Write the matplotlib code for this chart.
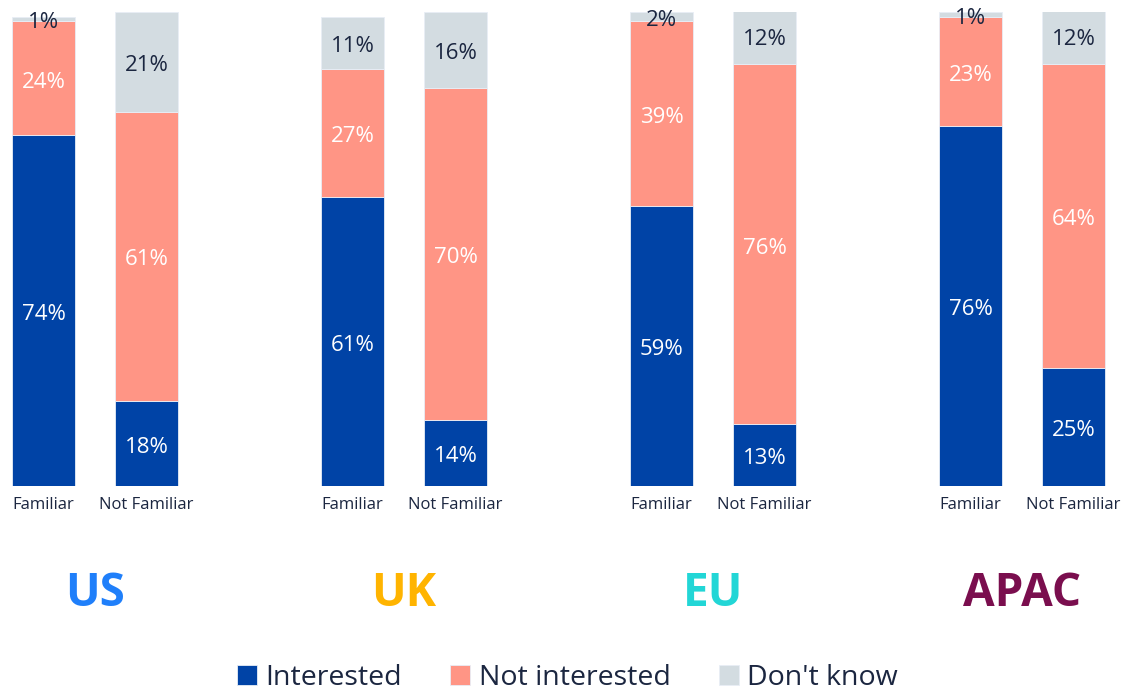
import numpy as np
import matplotlib.pyplot as plt

plt.rcParams['font.family'] = ['Open Sans', 'DejaVu Sans']

regions = ["US", "UK", "EU", "APAC"]
region_colors = ["#1F7FFA", "#FFB400", "#22D6D6", "#7A0E4E"]
groups = ["Familiar", "Not Familiar"]

# per region: [Familiar, Not Familiar]
interested = [[74, 18], [61, 14], [59, 13], [76, 25]]
not_interested = [[24, 61], [27, 70], [39, 76], [23, 64]]
dont_know = [[1, 21], [11, 16], [2, 12], [1, 12]]

series = ["Interested", "Not interested", "Don't know"]
colors = ["#0043A6", "#FF9585", "#D3DCE1"]
text_colors = ["white", "white", "#1B2640"]
dark = "#1B2640"

fig = plt.figure(figsize=(11.35, 6.9), dpi=100)
ax = fig.add_axes([0, 1 - 486 / 690, 1, 474 / 690])

xs = []
labels = []
for i, reg in enumerate(regions):
    for j, g in enumerate(groups):
        xs.append(i * 3 + j)
        labels.append(g)
xs = np.array(xs)

vals = [np.ravel(interested), np.ravel(not_interested), np.ravel(dont_know)]
bottom = np.zeros(len(xs))
for k, v in enumerate(vals):
    ax.bar(xs, v, bottom=bottom, width=0.615, color=colors[k],
           edgecolor="#E8EEF6", linewidth=0.6, label=series[k])
    for x, b, h in zip(xs, bottom, v):
        ax.text(x, b + h / 2 - 0.8, f"{h}%", ha="center", va="center",
                fontsize=16, color=text_colors[k])
    bottom = bottom + v

ax.set_xlim(-43.5 / 103, (1135 - 43.5) / 103)
ax.set_ylim(0, 100)
ax.set_xticks(xs)
ax.set_xticklabels(labels, fontsize=12, color=dark)
ax.tick_params(axis="x", length=0, pad=8)
ax.set_yticks([])
for s in ax.spines.values():
    s.set_visible(False)

# region names under each pair of bars
for i, reg in enumerate(regions):
    ax.text(i * 3 + 0.5, -22.6, reg, ha="center", va="center",
            fontsize=33, fontweight="bold", color=region_colors[i])

handles, lbls = ax.get_legend_handles_labels()
fig.legend(handles, lbls, loc="center", bbox_to_anchor=(0.5, 1 - 678 / 690),
           ncol=3, frameon=False, fontsize=20.5, handlelength=0.7,
           handleheight=0.7, handletextpad=0.3, columnspacing=1.7,
           labelcolor=dark)

fig.savefig("out.png", dpi=100)
